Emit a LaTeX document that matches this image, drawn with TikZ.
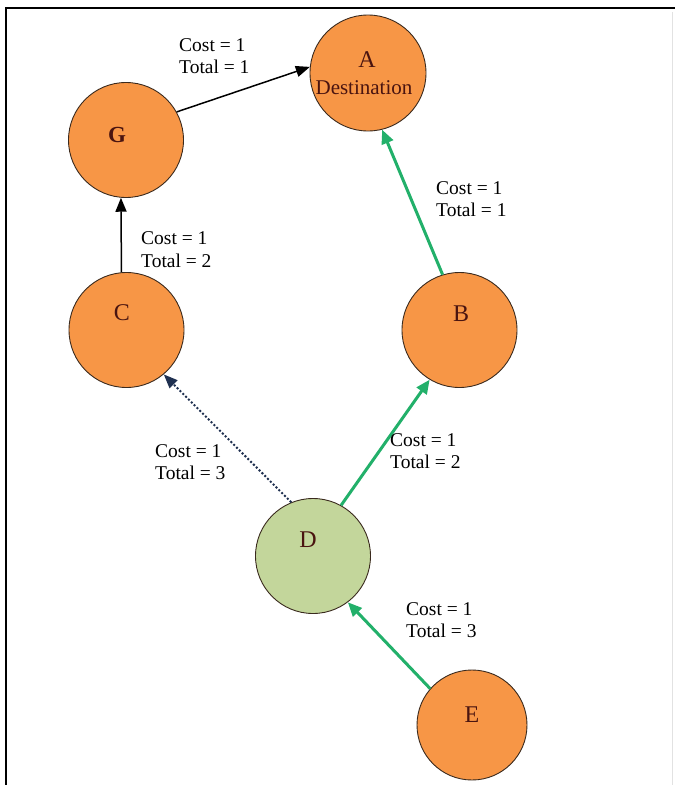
\documentclass[tikz,border=0pt]{standalone}
\usepackage{fontspec}
\setmainfont{Liberation Serif}
\usetikzlibrary{arrows.meta}
\definecolor{nodeorange}{HTML}{F79646}
\definecolor{nodegreen}{HTML}{C3D69B}
\definecolor{nodeborder}{HTML}{3A2A1E}
\definecolor{lettercol}{HTML}{4A1410}
\definecolor{arrowgreen}{HTML}{22B06A}
\definecolor{navyarrow}{HTML}{1F3050}
\definecolor{faintgray}{HTML}{E2E2E2}
\begin{document}
\begin{tikzpicture}[x=1pt,y=-1pt,
  circ/.style={circle,draw=nodeborder,line width=0.9pt,minimum size=115pt,inner sep=0pt},
  lettr/.style={text=lettercol,font=\fontsize{24}{26}\selectfont,inner sep=0pt},
  costlbl/.style={align=left,anchor=west,font=\fontsize{19.5}{22.5}\selectfont,inner sep=0pt},
  blackarrow/.style={-{Triangle[length=14pt,width=11pt]},line width=1.5pt,black},
  greenarrow/.style={-{Triangle[length=14pt,width=12pt]},line width=3pt,arrowgreen},
  dotarrow/.style={-{Triangle[length=14pt,width=11pt]},line width=2pt,dotted,navyarrow}]
  % canvas and frame
  \fill[white] (0,0) rectangle (675,785);
  \useasboundingbox (0,0) rectangle (675,785);
  \draw[line width=2pt] (6,785) -- (6,8) -- (675,8);
  \draw[faintgray,line width=1pt] (672,12) -- (672,785);
  % nodes
  \node[circ,fill=nodeorange,minimum width=116pt,minimum height=111pt] (A) at (368,73) {};
  \node[circ,fill=nodeorange] (G) at (126,140) {};
  \node[circ,fill=nodeorange] (C) at (126.5,330) {};
  \node[circ,fill=nodeorange] (B) at (459.5,330) {};
  \node[circ,fill=nodegreen] (D) at (313,556) {};
  \node[circ,fill=nodeorange,minimum size=110pt] (E) at (472,725) {};
  % node texts
  \node[lettr] (At) at (367,60) {A};
  \node[lettr,font=\fontsize{21}{23}\selectfont] (Adest) at (364,88) {Destination};
  \node[lettr,font=\fontsize{23}{25}\selectfont\bfseries] (Gt) at (117,135) {G};
  \node[lettr] (Ct) at (122,313) {C};
  \node[lettr] (Bt) at (461,314) {B};
  \node[lettr] (Dt) at (308,540) {D};
  \node[lettr] (Et) at (472,715) {E};
  % connectors
  \draw[blackarrow] (G.29) -- (A.174);
  \draw[blackarrow] (C.95) -- (G.265);
  \draw[greenarrow] (B.107) -- (A.-76);
  \draw[greenarrow] (D.61) -- (B.239.5);
  \draw[greenarrow] (E.139) -- (D.-53);
  \draw[dotarrow] (D.112) -- (C.-50);
  % labels
  \node[costlbl] (lGA) at (179,56) {Cost = 1\\Total = 1};
  \node[costlbl] (lCG) at (141,249.5) {Cost = 1\\Total = 2};
  \node[costlbl] (lBA) at (436,199) {Cost = 1\\Total = 1};
  \node[costlbl] (lDC) at (155,462) {Cost = 1\\Total = 3};
  \node[costlbl] (lDB) at (390,451) {Cost = 1\\Total = 2};
  \node[costlbl] (lED) at (406,620) {Cost = 1\\Total = 3};
\end{tikzpicture}
\end{document}
